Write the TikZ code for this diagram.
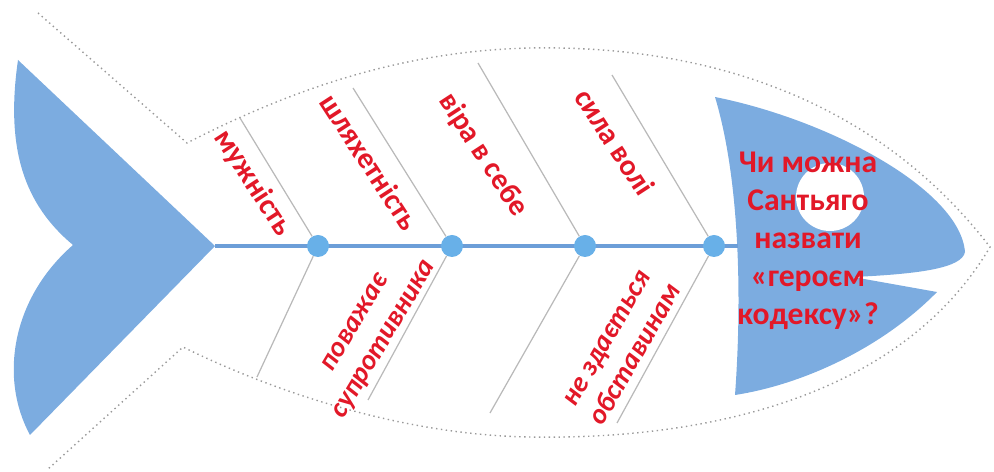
\documentclass[tikz,border=0pt]{standalone}
\usepackage{fontspec}
\setmainfont{Carlito}
\usepackage{xcolor}
\definecolor{fishBlue}{RGB}{124,172,224}
\definecolor{spineBlue}{RGB}{108,158,216}
\definecolor{jointBlue}{RGB}{104,176,232}
\definecolor{darkRed}{RGB}{226,24,40}
\colorlet{ribGray}{gray!55}

\begin{document}
\begin{tikzpicture}[x=0.02cm, y=-0.02cm,
    rib/.style={draw=ribGray, line width=0.7pt},
    joint/.style={circle, fill=jointBlue, inner sep=0pt, minimum size=22*0.02cm},
    ribtext/.style={text=darkRed, font=\bfseries\fontsize{17}{19}\selectfont, align=center, inner sep=0pt},
    lowtext/.style={ribtext, font=\bfseries\itshape\fontsize{16}{19}\selectfont}]
  \useasboundingbox (0,0) rectangle (994,472);

  % body outline
  \draw[gray!80, dotted, line width=0.8pt] (38,13) -- (187,143)
    .. controls (300,85) and (420,45) .. (560,48)
    .. controls (760,52) and (900,130) .. (990,247)
    .. controls (900,400) and (700,440) .. (530,437)
    .. controls (400,435) and (270,390) .. (183,347) -- (47,470);

  % tail and head
  \fill[fishBlue] (18,60) -- (215,246) -- (30,435)
    .. controls (0,380) and (10,300) .. (73,245)
    .. controls (25,205) and (5,150) .. (18,60) -- cycle;
  \fill[fishBlue] (715,97) .. controls (830,120) and (960,190) .. (965,252)
    .. controls (962,268) and (920,274) .. (853,277) -- (937,292)
    .. controls (880,350) and (800,385) .. (735,395)
    .. controls (742,300) and (740,180) .. (715,97) -- cycle;
  \fill[white] (830,197) circle (34);

  \coordinate (tail) at (215,246);
  \coordinate (head) at (738,246);
  \draw[spineBlue, line width=2pt] (tail) -- (head);

  \node[joint] (j1) at (318,246) {};
  \node[joint] (j2) at (452,246) {};
  \node[joint] (j3) at (585,246) {};
  \node[joint] (j4) at (714,246) {};

  \coordinate (u1) at (240,118);
  \coordinate (u2) at (353,88);
  \coordinate (u3) at (478,63);
  \coordinate (u4) at (612,75);
  \coordinate (l1) at (257,377);
  \coordinate (l2) at (368,400);
  \coordinate (l3) at (490,413);
  \coordinate (l4) at (617,423);
  \foreach \i in {1,...,4} {
    \draw[rib] (j\i) -- (u\i);
    \draw[rib] (j\i) -- (l\i);
  }

  \node[ribtext, rotate=-57] (courage) at (253,183) {мужність};
  \node[ribtext, rotate=-57] (nobility) at (370,162) {шляхетність};
  \node[ribtext, rotate=-57] (faith) at (483,155) {віра в себе};
  \node[ribtext, rotate=-57] (will) at (615,142) {сила волі};
  \node[lowtext, rotate=59] (respect) at (371,332) {поважає\\супротивника};
  \node[lowtext, rotate=60] (persist) at (622,347) {не здається\\обставинам};

  \node[text=darkRed, font=\bfseries\fontsize{18}{21.6}\selectfont, align=center]
    (question) at (808,241) {Чи можна\\Сантьяго\\назвати\\«героєм\\кодексу»?};
\end{tikzpicture}
\end{document}
